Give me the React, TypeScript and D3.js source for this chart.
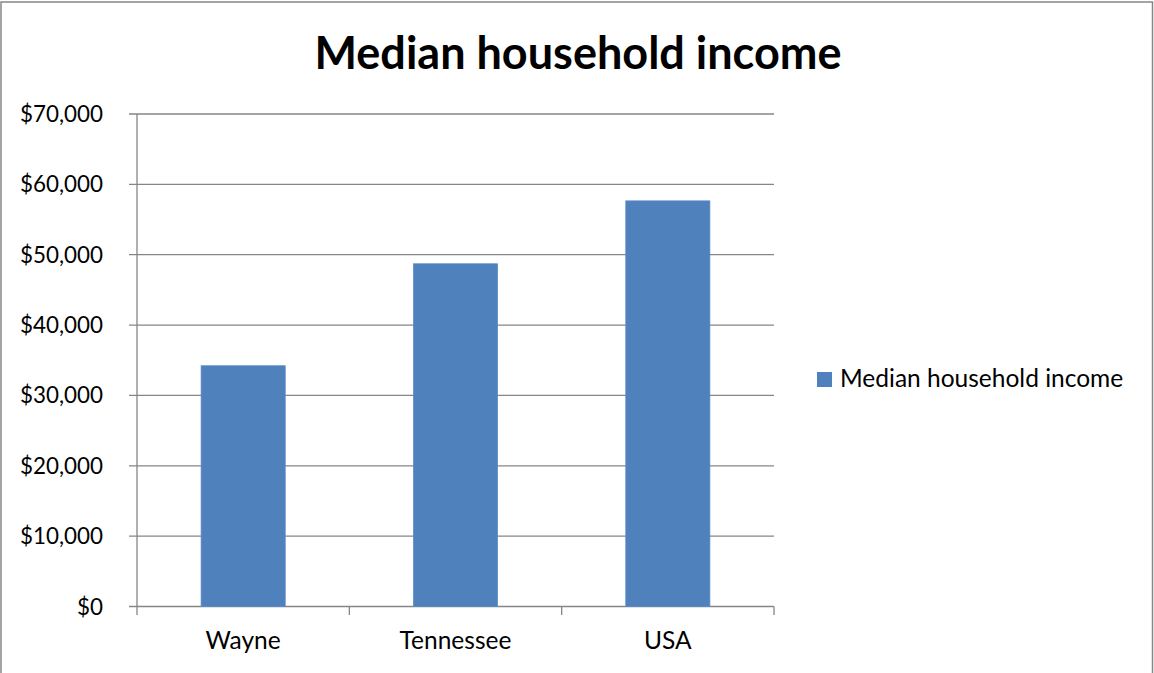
import React from "react";
import * as d3 from "d3";

const categories = ["Wayne", "Tennessee", "USA"];
const values = [34217, 48708, 57652];
const yTicks = [0, 10000, 20000, 30000, 40000, 50000, 60000, 70000];
const seriesName = "Median household income";
const title = "Median household income";

const W = 1154;
const H = 673;
const FONT = "Lato, 'Carlito', Calibri, sans-serif";

export default function App() {
  const x = d3.scaleBand<string>().domain(categories).range([137, 774]).paddingInner(0).paddingOuter(0);
  const y = d3.scaleLinear().domain([0, 70000]).range([606.5, 114]);
  const fmt = (v: number) => "$" + d3.format(",")(v);
  const barW = x.bandwidth() * 0.396;
  const grid = "#868686";
  const bounds = [...categories.map((c) => x(c) as number), 774];
  return (
    <svg width={W} height={H} style={{ position: "absolute", left: 0, top: 0, background: "#fff" }}>
      <rect x={1} y={2} width={1151.5} height={H + 10} fill="#fff" stroke={grid} strokeWidth={1.5} />
      <text x={578} y={69} textAnchor="middle" fontFamily={FONT} fontWeight={700} fontSize={45} fill="#000">
        {title}
      </text>
      {yTicks.map((t) => (
        <g key={t}>
          <line x1={129} x2={774} y1={y(t)} y2={y(t)} stroke={grid} strokeWidth={1.3} />
          <text x={103} y={y(t)} dy="0.36em" textAnchor="end" fontFamily={FONT} fontSize={22.4} fill="#000">
            {fmt(t)}
          </text>
        </g>
      ))}
      <line x1={137} x2={137} y1={114} y2={606.5} stroke={grid} strokeWidth={1.3} />
      {bounds.map((b, i) => (
        <line key={i} x1={b} x2={b} y1={606.5} y2={615} stroke={grid} strokeWidth={1.3} />
      ))}
      {categories.map((c, i) => (
        <rect
          key={c}
          x={(x(c) as number) + (x.bandwidth() - barW) / 2}
          y={y(values[i])}
          width={barW}
          height={y(0) - y(values[i])}
          fill="#4F81BD"
          stroke="#5b8cc6"
          strokeWidth={0.8}
        />
      ))}
      {categories.map((c) => (
        <text key={c} x={(x(c) as number) + x.bandwidth() / 2} y={649} textAnchor="middle" fontFamily={FONT} fontSize={24.5} fill="#000">
          {c}
        </text>
      ))}
      <rect x={817} y={372} width={15} height={15} fill="#4F81BD" />
      <text x={840} y={387} fontFamily={FONT} fontSize={24.5} fill="#000">
        {seriesName}
      </text>
    </svg>
  );
}
